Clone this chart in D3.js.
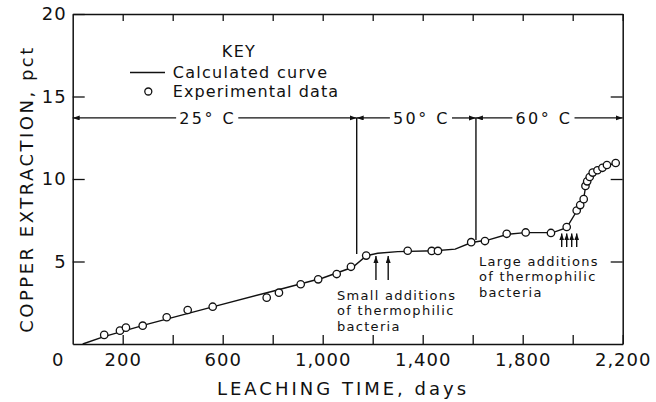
<!DOCTYPE html>
<html>
<head>
<meta charset="utf-8">
<script src="https://cdn.jsdelivr.net/npm/d3@7"></script>
<style>
  html, body { margin: 0; padding: 0; background: #fff; }
  svg { display: block; }
  text { font-family: "DejaVu Sans", sans-serif; fill: #111; }
</style>
</head>
<body>
<svg id="chart" width="656" height="402"></svg>
<script>
// Experimental data: leaching time (days) vs copper extraction (pct)
const expDays = [126, 189, 213, 280, 376, 460, 560, 776, 825, 912, 982, 1056, 1113, 1174,
                 1340, 1436, 1461, 1594, 1649, 1736, 1812, 1913, 1976,
                 2016, 2030, 2044, 2051, 2058, 2068, 2080, 2099, 2119, 2137, 2172];
const expPct  = [0.55, 0.81, 0.99, 1.11, 1.62, 2.06, 2.26, 2.81, 3.11, 3.62, 3.92, 4.24, 4.68, 5.36,
                 5.65, 5.64, 5.64, 6.17, 6.24, 6.68, 6.76, 6.73, 7.09,
                 8.09, 8.42, 8.78, 9.58, 9.86, 10.12, 10.39, 10.53, 10.68, 10.85, 10.97];

// Calculated curve
const calcDays = [40, 125, 300, 560, 800, 1000, 1120, 1175, 1220, 1300, 1450, 1530, 1595, 1660,
                  1740, 1810, 1920, 1976, 2014, 2044, 2052, 2068, 2080, 2100, 2130, 2172];
const calcPct  = [0.0, 0.45, 1.2, 2.25, 3.2, 4.0, 4.65, 5.35, 5.5, 5.6, 5.65, 5.75, 6.15, 6.3,
                  6.65, 6.75, 6.75, 7.05, 8.0, 8.8, 9.6, 10.12, 10.4, 10.55, 10.78, 10.97];

// Temperature periods
const zoneDays = [0, 1136, 1613, 2200];
const zoneLabels = ["25° C", "50° C", "60° C"];
const zoneLabelDays = [540, 1395, 1885];
const zoneArrowPct = 13.7;
const boundaryEndPct = [5.45, 6.3];

// Bacteria additions (arrow tip pct, arrow tail pct)
const smallAddDays = [1213, 1262];
const smallAddPct = [5.33, 3.88];
const largeAddDays = [1956, 1976, 1996, 2016];
const largeAddPct = [6.7, 5.88];

// Axis ticks
const tickDays = [200, 400, 600, 800, 1000, 1200, 1400, 1600, 1800, 2000, 2200];
const labelDays = [200, 600, 1000, 1400, 1800, 2200];
const pctTicks = [5, 10, 15, 20];

const ink = "#111";
const svg = d3.select("#chart");

const x = d3.scaleLinear().domain([0, 2200]).range([72.7, 622.7]);
const y = d3.scaleLinear().domain([0, 20]).range([344, 14]);

// arrowhead marker
svg.append("defs").append("marker")
  .attr("id", "head")
  .attr("markerUnits", "userSpaceOnUse")
  .attr("markerWidth", 8).attr("markerHeight", 6)
  .attr("refX", 7).attr("refY", 2.5)
  .attr("orient", "auto-start-reverse")
  .append("path").attr("d", "M0,0 L7,2.5 L0,5 Z").attr("fill", ink);

function styleAxis(g) {
  g.attr("font-family", null).attr("font-size", null).attr("color", ink);
  g.selectAll(".domain").attr("stroke-width", 1.5);
  g.selectAll(".tick line").attr("stroke-width", 1.3);
  g.selectAll(".tick text").attr("font-size", 18).style("letter-spacing", "1px");
}

// bottom axis
svg.append("g")
  .attr("transform", `translate(0,${y(0)})`)
  .call(d3.axisBottom(x).tickValues(tickDays).tickSizeInner(-9).tickSizeOuter(0).tickPadding(9)
    .tickFormat(d => labelDays.includes(d) ? d3.format(",")(d) : ""))
  .call(styleAxis);

// top frame
svg.append("g")
  .attr("transform", `translate(0,${y(20)})`)
  .call(d3.axisTop(x).tickValues(tickDays).tickSizeInner(-7).tickSizeOuter(0).tickFormat(""))
  .call(styleAxis);

// left axis
svg.append("g")
  .attr("transform", `translate(${x(0)},0)`)
  .call(d3.axisLeft(y).tickValues(pctTicks).tickSizeInner(-12).tickSizeOuter(0).tickPadding(6))
  .call(styleAxis);

// right frame
svg.append("g")
  .attr("transform", `translate(${x(2200)},0)`)
  .call(d3.axisRight(y).tickValues([5, 10, 15]).tickSizeInner(-12).tickSizeOuter(0).tickFormat(""))
  .call(styleAxis);

// origin label
svg.append("text")
  .attr("x", x(0) - 15).attr("y", y(0) + 22)
  .attr("text-anchor", "middle").attr("font-size", 18)
  .text("0");

// axis titles
svg.append("text")
  .attr("x", 343).attr("y", 395)
  .attr("text-anchor", "middle").attr("font-size", 18)
  .style("letter-spacing", "3px")
  .text("LEACHING TIME, days");

svg.append("text")
  .attr("transform", "translate(33,189) rotate(-90)")
  .attr("text-anchor", "middle").attr("font-size", 18)
  .style("letter-spacing", "2.5px")
  .text("COPPER EXTRACTION, pct");

// temperature period markers
const yArrow = y(zoneArrowPct);
zoneLabels.forEach((lab, i) => {
  const t = svg.append("text")
    .attr("x", x(zoneLabelDays[i])).attr("y", yArrow + 6)
    .attr("text-anchor", "middle").attr("font-size", 16)
    .style("letter-spacing", "2.5px")
    .text(lab);
  const bb = t.node().getBBox();
  svg.append("line")
    .attr("x1", x(zoneDays[i])).attr("x2", bb.x - 3)
    .attr("y1", yArrow).attr("y2", yArrow)
    .attr("stroke", ink).attr("stroke-width", 1.3)
    .attr("marker-start", "url(#head)");
  svg.append("line")
    .attr("x1", bb.x + bb.width + 2).attr("x2", x(zoneDays[i + 1]))
    .attr("y1", yArrow).attr("y2", yArrow)
    .attr("stroke", ink).attr("stroke-width", 1.3)
    .attr("marker-end", "url(#head)");
});

// period boundaries
boundaryEndPct.forEach((p, i) => {
  svg.append("line")
    .attr("x1", x(zoneDays[i + 1])).attr("x2", x(zoneDays[i + 1]))
    .attr("y1", yArrow).attr("y2", y(p))
    .attr("stroke", ink).attr("stroke-width", 1.4);
});

// calculated curve
const calc = calcDays.map((d, i) => [d, calcPct[i]]);
svg.append("path")
  .datum(calc)
  .attr("d", d3.line().x(d => x(d[0])).y(d => y(d[1])))
  .attr("fill", "none").attr("stroke", ink).attr("stroke-width", 1.4);

// experimental points
svg.append("g").selectAll("circle")
  .data(expDays.map((d, i) => [d, expPct[i]]))
  .join("circle")
  .attr("cx", d => x(d[0])).attr("cy", d => y(d[1]))
  .attr("r", 3.7)
  .attr("fill", "#fff").attr("stroke", ink).attr("stroke-width", 1.3);

// bacteria addition arrows
function additionArrows(days, pct) {
  svg.append("g").selectAll("line")
    .data(days)
    .join("line")
    .attr("x1", d => x(d)).attr("x2", d => x(d))
    .attr("y1", y(pct[1])).attr("y2", y(pct[0]))
    .attr("stroke", ink).attr("stroke-width", 1.4)
    .attr("marker-end", "url(#head)");
}
additionArrows(smallAddDays, smallAddPct);
additionArrows(largeAddDays, largeAddPct);

// multi-line notes
function note(lines, x0, y0) {
  lines.forEach((s, i) => {
    svg.append("text")
      .attr("x", x0).attr("y", y0 + i * 15.3)
      .attr("font-size", 13).style("letter-spacing", "1.3px")
      .text(s);
  });
}
note(["Small additions", "of thermophilic", "bacteria"], x(1057), 300);
note(["Large additions", "of thermophilic", "bacteria"], x(1625), 266);

// key
const key = svg.append("g");
key.append("text").attr("x", 239).attr("y", 57)
  .attr("text-anchor", "middle").attr("font-size", 16)
  .style("letter-spacing", "1.3px").text("KEY");
key.append("line").attr("x1", 130).attr("x2", 165).attr("y1", 72.5).attr("y2", 72.5)
  .attr("stroke", ink).attr("stroke-width", 1.4);
key.append("text").attr("x", 172.7).attr("y", 78.3).attr("font-size", 16)
  .style("letter-spacing", "1.3px").text("Calculated curve");
key.append("circle").attr("cx", 148.3).attr("cy", 91.5).attr("r", 3.5)
  .attr("fill", "#fff").attr("stroke", ink).attr("stroke-width", 1.3);
key.append("text").attr("x", 172.7).attr("y", 96.7).attr("font-size", 16)
  .style("letter-spacing", "1.1px").text("Experimental data");
</script>
</body>
</html>
